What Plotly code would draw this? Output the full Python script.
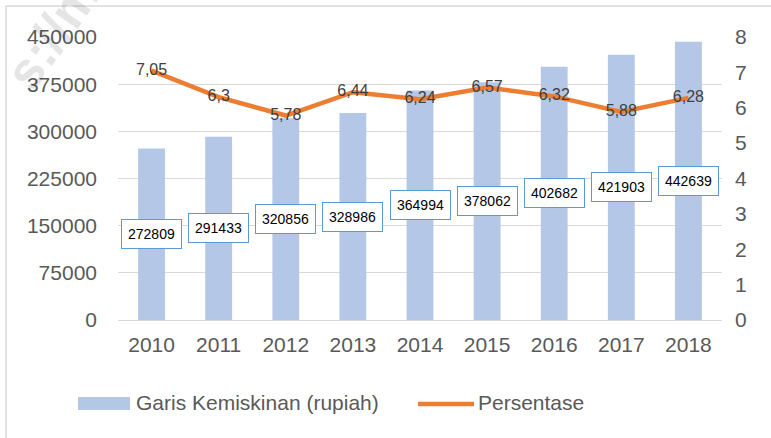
import plotly.graph_objects as go

years = [2010, 2011, 2012, 2013, 2014, 2015, 2016, 2017, 2018]
garis = [272809, 291433, 320856, 328986, 364994, 378062, 402682, 421903, 442639]
persen = [7.05, 6.3, 5.78, 6.44, 6.24, 6.57, 6.32, 5.88, 6.28]
persen_labels = ["7,05", "6,3", "5,78", "6,44", "6,24", "6,57", "6,32", "5,88", "6,28"]
left_ticks = [0, 75000, 150000, 225000, 300000, 375000, 450000]
right_ticks = [0, 1, 2, 3, 4, 5, 6, 7, 8]

FONT = "Liberation Sans"
BAR_COLOR = "#b4c7e7"
LINE_COLOR = "#ed7d31"
W, H = 771, 438
L, R, T, B = 118, 49, 37, 118
pw, ph = W - L - R, H - T - B

def px(x):
    return (x - L) / pw

def py(y):
    return (H - B - y) / ph

fig = go.Figure()
fig.add_trace(go.Bar(
    x=years, y=garis, name="Garis Kemiskinan (rupiah)",
    marker=dict(color=BAR_COLOR, line=dict(width=0)),
    width=0.4, hoverinfo="skip", showlegend=False,
))
fig.add_trace(go.Scatter(
    x=years, y=persen, name="Persentase", mode="lines+text",
    line=dict(color=LINE_COLOR, width=4.5),
    text=persen_labels, textposition="middle center",
    textfont=dict(family=FONT, size=16, color="#404040"),
    yaxis="y2", hoverinfo="skip", showlegend=False,
))

for yr, v in zip(years, garis):
    fig.add_annotation(
        x=yr, y=v / 2, xref="x", yref="y", text=str(v), showarrow=False,
        font=dict(family=FONT, size=14, color="#000000"),
        bgcolor="#ffffff", bordercolor="#5b9bd5", borderwidth=1, borderpad=6,
    )

# legend (drawn manually to match swatch sizes)
fig.add_shape(type="rect", xref="paper", yref="paper",
              x0=px(78), x1=px(130), y0=py(410), y1=py(397),
              fillcolor=BAR_COLOR, line=dict(width=0))
fig.add_annotation(x=px(134), y=py(403), xref="paper", yref="paper",
                   text="Garis Kemiskinan (rupiah)", showarrow=False,
                   xanchor="left", yanchor="middle",
                   font=dict(family=FONT, size=21, color="#595959"))
fig.add_shape(type="line", xref="paper", yref="paper",
              x0=px(418), x1=px(474), y0=py(404), y1=py(404),
              line=dict(color=LINE_COLOR, width=4.5))
fig.add_annotation(x=px(476), y=py(403), xref="paper", yref="paper",
                   text="Persentase", showarrow=False,
                   xanchor="left", yanchor="middle",
                   font=dict(family=FONT, size=21, color="#595959"))

fig.add_annotation(
    x=px(52), y=py(34), xref="paper", yref="paper", text="<b>s://m</b>",
    showarrow=False, textangle=-55, xanchor="center", yanchor="middle",
    font=dict(family=FONT, size=52, color="rgba(0,0,0,0.10)"),
)

fig.add_shape(
    type="rect", xref="paper", yref="paper",
    x0=px(6), x1=px(790), y0=py(460), y1=py(6),
    line=dict(color="#d9d9d9", width=1.5), layer="below",
)

fig.update_layout(
    width=W, height=H,
    margin=dict(l=L, r=R, t=T, b=B, autoexpand=False),
    paper_bgcolor="white", plot_bgcolor="white",
    font=dict(family=FONT, size=21, color="#595959"),
    showlegend=False,
    xaxis=dict(
        type="linear", range=[years[0] - 0.5, years[-1] + 0.5],
        tickvals=years, ticktext=[str(y) for y in years],
        showgrid=False, showline=False, zeroline=False, ticks="",
        tickfont=dict(size=21), ticklabelstandoff=10,
    ),
    yaxis=dict(
        range=[0, 450000], tickvals=left_ticks, ticktext=[str(t) for t in left_ticks],
        showgrid=True, gridcolor="#d9d9d9", gridwidth=1, zeroline=True,
        zerolinecolor="#d9d9d9", zerolinewidth=1, showline=False, ticks="",
        ticklabelstandoff=20, tickfont=dict(size=21),
    ),
    yaxis2=dict(
        range=[0, 8], tickvals=right_ticks, overlaying="y", side="right",
        showgrid=False, zeroline=False, showline=False, ticks="",
        ticklabelstandoff=12, tickfont=dict(size=21),
    ),
)

fig.write_html(
    "out.html",
    config={"displayModeBar": False},
    post_script="document.body.style.margin='0px';document.body.style.overflow='hidden';",
)
